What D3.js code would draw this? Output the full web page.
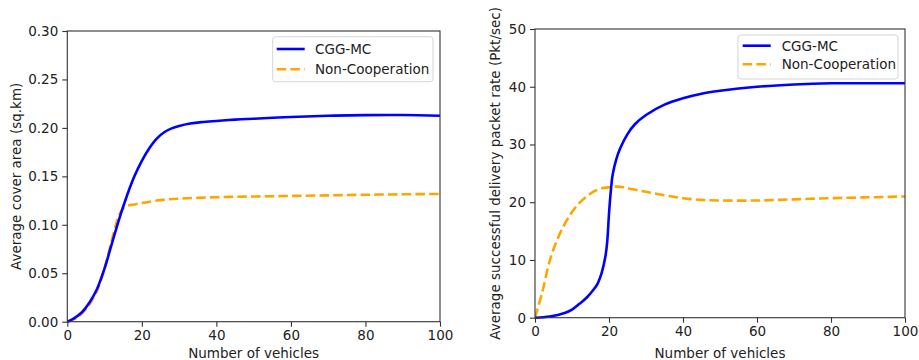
<!DOCTYPE html>
<html><head><meta charset="utf-8">
<script src="https://cdn.jsdelivr.net/npm/d3@7"></script>
<style>body{margin:0;background:#fff}svg{display:block}text{font-family:"DejaVu Sans",sans-serif;fill:#222}</style>
</head><body><svg id="c" width="919" height="360"></svg>
<script>
// ---- Data ----
const seriesNames = ["CGG-MC", "Non-Cooperation"];

const coverX_cgg = [0,2,4,6,8,10,12,14,16,18,20,22,24,26,28,30,33,36,40,45,50,60,70,80,90,100];
const coverY_cgg = [0,0.004,0.01,0.02,0.034,0.055,0.081,0.107,0.13,0.15,0.166,0.179,0.189,0.1955,0.1995,0.202,0.2045,0.206,0.2072,0.2085,0.2095,0.2113,0.2125,0.2132,0.2133,0.2125];
const coverX_non = [0,2,4,6,8,10,12,14,15,16,18,20,25,30,40,50,60,70,80,90,100];
const coverY_non = [0,0.003,0.009,0.018,0.032,0.055,0.085,0.111,0.117,0.1195,0.121,0.1225,0.1255,0.127,0.1285,0.1292,0.1298,0.1304,0.131,0.1315,0.1318];

const rateX_cgg = [0,4,8,10,12,14,16,17,18,19,19.5,20,20.5,21,22,23,25,27,30,35,40,45,50,60,70,80,90,100];
const rateY_cgg = [0,0.2,0.8,1.4,2.4,3.5,5,6,7.7,10.5,13,18,22,24.8,27.5,29.3,31.8,33.5,35.1,36.9,38,38.8,39.3,40,40.4,40.6,40.6,40.6];
const rateX_non = [0,2,4,6,8,10,12,14,16,18,20,22,24,26,30,35,40,45,50,60,70,80,90,100];
const rateY_non = [0,4.5,9.9,13.5,16.2,18.3,19.9,21,21.9,22.4,22.6,22.7,22.6,22.3,21.8,21.2,20.7,20.4,20.3,20.3,20.5,20.7,20.85,21];

const xTicks = [0,20,40,60,80,100];
const coverTicks = [0,0.05,0.10,0.15,0.20,0.25,0.30];
const rateTicks = [0,10,20,30,40,50];

// ---- Drawing ----
const svg = d3.select("#c");
const colors = ["#0000ff", "#ffa500"];

function panel(o) {
  const x = d3.scaleLinear().domain([0,100]).range([o.left, o.right]);
  const y = d3.scaleLinear().domain(o.yDomain).range([o.bottom, o.top]);
  const g = svg.append("g");
  const line = d3.line().x(d=>x(d[0])).y(d=>y(d[1])).curve(d3.curveCatmullRom.alpha(0.5));

  g.append("defs").append("clipPath").attr("id", o.id)
    .append("rect").attr("x", o.left).attr("y", o.top - 2).attr("width", o.right - o.left).attr("height", o.bottom - o.top + 4);

  const lines = g.append("g").attr("clip-path", `url(#${o.id})`);
  lines.append("path").datum(d3.zip(o.xn, o.yn)).attr("d", line)
    .attr("fill","none").attr("stroke", colors[1]).attr("stroke-width", 2.6).attr("stroke-dasharray","9.5,4.2");
  lines.append("path").datum(d3.zip(o.xc, o.yc)).attr("d", line)
    .attr("fill","none").attr("stroke", colors[0]).attr("stroke-width", 2.6);

  const xa = g.append("g").attr("transform", `translate(0,${o.bottom})`)
    .call(d3.axisBottom(x).tickValues(xTicks).tickSize(5).tickPadding(4).tickFormat(d3.format("d")));
  const ya = g.append("g").attr("transform", `translate(${o.left},0)`)
    .call(d3.axisLeft(y).tickValues(o.yTicks).tickSize(5).tickPadding(4).tickFormat(o.fmt));
  [xa, ya].forEach(a => {
    a.select(".domain").remove();
    a.selectAll("line").attr("stroke", "#333").attr("stroke-width", 1.1);
    a.selectAll("text").attr("font-size", 13.5).attr("fill", "#222").style("font-family","DejaVu Sans");
  });
  g.append("rect").attr("x", o.left).attr("y", o.top).attr("width", o.right - o.left).attr("height", o.bottom - o.top)
    .attr("fill","none").attr("stroke","#333").attr("stroke-width", 1.1);

  g.append("text").attr("x", (o.left+o.right)/2).attr("y", 358).attr("text-anchor","middle")
    .attr("font-size", 13.5).text("Number of vehicles");
  g.append("text").attr("transform", `translate(${o.ylx},${(o.top+o.bottom)/2}) rotate(-90)`)
    .attr("text-anchor","middle").attr("font-size", 13.5).text(o.ylabel);

  const L = o.legend;
  g.append("rect").attr("x", L.x).attr("y", L.y).attr("width", L.w).attr("height", L.h).attr("rx", 3)
    .attr("fill", "#fff").attr("fill-opacity", 0.8).attr("stroke", "#d5d5d5").attr("stroke-width", 1);
  seriesNames.forEach((nm, i) => {
    const ly = L.ly[i];
    g.append("line").attr("x1", L.hx).attr("x2", L.hx + 28).attr("y1", ly).attr("y2", ly)
      .attr("stroke", colors[i]).attr("stroke-width", 2.6).attr("stroke-dasharray", i ? "9.5,4.2" : null);
    g.append("text").attr("x", L.tx).attr("y", ly + 5).attr("font-size", 13.5).text(nm);
  });
}

panel({
  id: "cl", left: 67.3, right: 440, top: 31, bottom: 321.7, yDomain: [0, 0.30],
  yTicks: coverTicks, fmt: d3.format(".2f"),
  xc: coverX_cgg, yc: coverY_cgg, xn: coverX_non, yn: coverY_non,
  ylabel: "Average cover area (sq.km)", ylx: 21,
  legend: {x: 272.7, y: 36.7, w: 160.3, h: 45, hx: 276.7, tx: 315, ly: [49, 69.3]}
});
panel({
  id: "cr", left: 535, right: 905, top: 29, bottom: 317.7, yDomain: [0, 50],
  yTicks: rateTicks, fmt: d3.format("d"),
  xc: rateX_cgg, yc: rateY_cgg, xn: rateX_non, yn: rateY_non,
  ylabel: "Average successful delivery packet rate (Pkt/sec)", ylx: 500,
  legend: {x: 738, y: 35, w: 160, h: 44, hx: 742.7, tx: 781.7, ly: [45.7, 64.3]}
});
</script></body></html>
